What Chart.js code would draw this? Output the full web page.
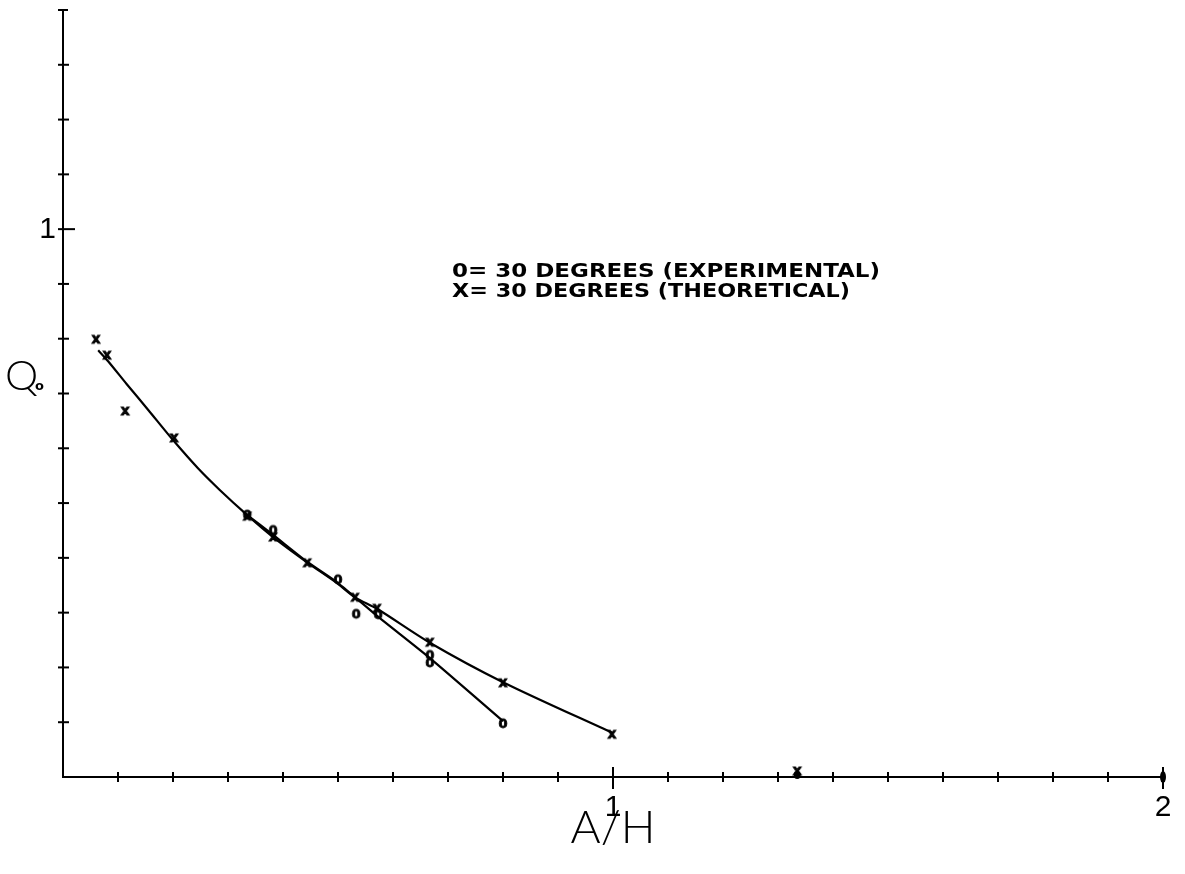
<!DOCTYPE html>
<html>
<head>
<meta charset="utf-8">
<title>Q0 vs A/H</title>
<script src="https://cdn.jsdelivr.net/npm/chart.js@4.4.0/dist/chart.umd.min.js"></script>
<style>
  html, body { margin: 0; padding: 0; background: #fff; }
  #wrap { width: 1185px; height: 874px; }
</style>
</head>
<body>
<div id="wrap"><canvas id="js-chart-q0"></canvas></div>
<script>
// Theoretical curve
const theoryCurveX = [0.064, 0.082, 0.116, 0.155, 0.200, 0.245, 0.285, 0.335, 0.382, 0.445, 0.498, 0.531, 0.571, 0.667, 0.800, 1.000];
const theoryCurveY = [0.779, 0.759, 0.717, 0.670, 0.615, 0.564, 0.524, 0.478, 0.438, 0.391, 0.354, 0.328, 0.307, 0.245, 0.173, 0.080];

// Experimental line
const expCurveX = [0.335, 0.382, 0.445, 0.500, 0.571, 0.667, 0.800];
const expCurveY = [0.478, 0.442, 0.392, 0.354, 0.294, 0.217, 0.102];

// X markers (theoretical)
const theoryPtsX = [0.060, 0.080, 0.113, 0.202, 0.335, 0.382, 0.444, 0.531, 0.571, 0.667, 0.800, 0.998, 1.335];
const theoryPtsY = [0.799, 0.770, 0.668, 0.619, 0.476, 0.438, 0.391, 0.328, 0.308, 0.246, 0.172, 0.078, 0.011];

// 0 markers (experimental)
const expPtsX = [0.335, 0.382, 0.500, 0.533, 0.573, 0.667, 0.667, 0.800];
const expPtsY = [0.478, 0.450, 0.360, 0.297, 0.296, 0.222, 0.208, 0.097];

// Axes
const xMax = 2, yMax = 1.4, tickStep = 0.1;
const xTickLabels = [[1, '1'], [2, '2']];
const yTickLabels = [[1, '1']];
const xTitle = 'A/H';
const legendLines = ['0= 30 DEGREES (EXPERIMENTAL)', 'X= 30 DEGREES (THEORETICAL)'];

const toPoints = (xs, ys) => xs.map((x, i) => ({ x: x, y: ys[i] }));

// plotter-like glyph markers
function glyphMarker(ch, size) {
  const c = document.createElement('canvas');
  c.width = 14; c.height = 16;
  const g = c.getContext('2d');
  g.fillStyle = '#000';
  g.strokeStyle = '#000';
  g.lineWidth = 0.8;
  g.font = 'bold ' + size + 'px "DejaVu Sans", sans-serif';
  g.textAlign = 'center';
  g.textBaseline = 'middle';
  g.fillText(ch, 7, 8.5);
  g.strokeText(ch, 7, 8.5);
  return c;
}
const xMark = glyphMarker('x', 14);
const oMark = glyphMarker('0', 13);

const plotterAxes = {
  id: 'plotterAxes',
  afterDraw(chart) {
    const ctx = chart.ctx;
    const xs = chart.scales.x, ys = chart.scales.y;
    const x0 = xs.getPixelForValue(0), y0 = ys.getPixelForValue(0);
    const x1 = xs.getPixelForValue(xMax), yTop = ys.getPixelForValue(yMax);
    ctx.save();
    ctx.strokeStyle = '#000';
    ctx.fillStyle = '#000';
    ctx.lineWidth = 2;
    // axis lines
    ctx.beginPath();
    ctx.moveTo(x0, yTop); ctx.lineTo(x0, y0); ctx.lineTo(x1, y0);
    ctx.stroke();
    // top terminal bar
    ctx.beginPath();
    ctx.moveTo(x0 - 5, yTop); ctx.lineTo(x0 + 5, yTop);
    ctx.stroke();
    // x ticks
    for (let v = tickStep; v <= xMax + 1e-9; v += tickStep) {
      const px = xs.getPixelForValue(v);
      const major = Math.abs(v - Math.round(v)) < 1e-6;
      ctx.beginPath();
      ctx.moveTo(px, y0 - (major ? 10 : 5));
      ctx.lineTo(px, y0 + (major ? 12 : 5));
      ctx.stroke();
    }
    // y ticks
    for (let v = tickStep; v < yMax - 1e-9; v += tickStep) {
      const py = ys.getPixelForValue(v);
      const major = Math.abs(v - Math.round(v)) < 1e-6;
      ctx.beginPath();
      ctx.moveTo(x0 - 5, py);
      ctx.lineTo(x0 + (major ? 12 : 6), py);
      ctx.stroke();
    }
    // end blob at x = 2
    ctx.beginPath();
    ctx.ellipse(x1, y0, 3, 6, 0, 0, Math.PI * 2);
    ctx.fill();
    // blob under the X on the axis
    ctx.beginPath();
    ctx.ellipse(xs.getPixelForValue(1.335), y0 - 2, 3.5, 4, 0, 0, Math.PI * 2);
    ctx.fill();

    // tick labels
    ctx.font = '30px "Liberation Sans Narrow", "Liberation Sans", sans-serif';
    ctx.textAlign = 'center';
    ctx.textBaseline = 'top';
    xTickLabels.forEach(([v, t]) => ctx.fillText(t, xs.getPixelForValue(v), y0 + 16));
    ctx.textAlign = 'right';
    ctx.textBaseline = 'middle';
    yTickLabels.forEach(([v, t]) => ctx.fillText(t, x0 - 7, ys.getPixelForValue(v) + 1));

    // axis titles
    ctx.font = '300 46px "Lato", "Liberation Sans", sans-serif';
    ctx.textAlign = 'center';
    ctx.textBaseline = 'alphabetic';
    ctx.fillText(xTitle, (x0 + x1) / 2, 843);
    const qy = ys.getPixelForValue(0.7);
    ctx.font = '300 42px "Lato", "Liberation Sans", sans-serif';
    ctx.textAlign = 'left';
    ctx.fillText('Q', 5, qy - 4);
    ctx.font = 'bold 13px "DejaVu Sans", sans-serif';
    ctx.fillText('o', 35, qy - 4);

    // legend text
    ctx.font = 'bold 20px "DejaVu Sans", sans-serif';
    ctx.textAlign = 'left';
    legendLines.forEach((t, i) => {
      const w = ctx.measureText(t).width;
      const target = i === 0 ? 428 : 398;
      ctx.save();
      ctx.translate(452, 277 + i * 20);
      ctx.scale(target / w, 1);
      ctx.fillText(t, 0, 0);
      ctx.restore();
    });
    ctx.restore();
  }
};

const ctxEl = document.getElementById('js-chart-q0');
new Chart(ctxEl, {
  type: 'scatter',
  data: {
    datasets: [
      {
        label: 'theory curve',
        data: toPoints(theoryCurveX, theoryCurveY),
        showLine: true,
        borderColor: '#000',
        borderWidth: 2.2,
        pointRadius: 0,
        tension: 0.3
      },
      {
        label: 'experimental curve',
        data: toPoints(expCurveX, expCurveY),
        showLine: true,
        borderColor: '#000',
        borderWidth: 2.2,
        pointRadius: 0,
        tension: 0.2
      },
      {
        label: 'X= 30 DEGREES (THEORETICAL)',
        data: toPoints(theoryPtsX, theoryPtsY),
        pointStyle: xMark,
        pointRadius: 7
      },
      {
        label: '0= 30 DEGREES (EXPERIMENTAL)',
        data: toPoints(expPtsX, expPtsY),
        pointStyle: oMark,
        pointRadius: 7
      }
    ]
  },
  options: {
    responsive: true,
    maintainAspectRatio: false,
    animation: false,
    layout: { padding: { left: 63, right: 22, top: 10, bottom: 97 } },
    plugins: { legend: { display: false }, tooltip: { enabled: false } },
    scales: {
      x: {
        type: 'linear', min: 0, max: xMax,
        ticks: { display: false },
        grid: { display: false, drawTicks: false },
        border: { display: false }
      },
      y: {
        type: 'linear', min: 0, max: yMax,
        ticks: { display: false },
        grid: { display: false, drawTicks: false },
        border: { display: false }
      }
    }
  },
  plugins: [plotterAxes]
});
</script>
</body>
</html>
